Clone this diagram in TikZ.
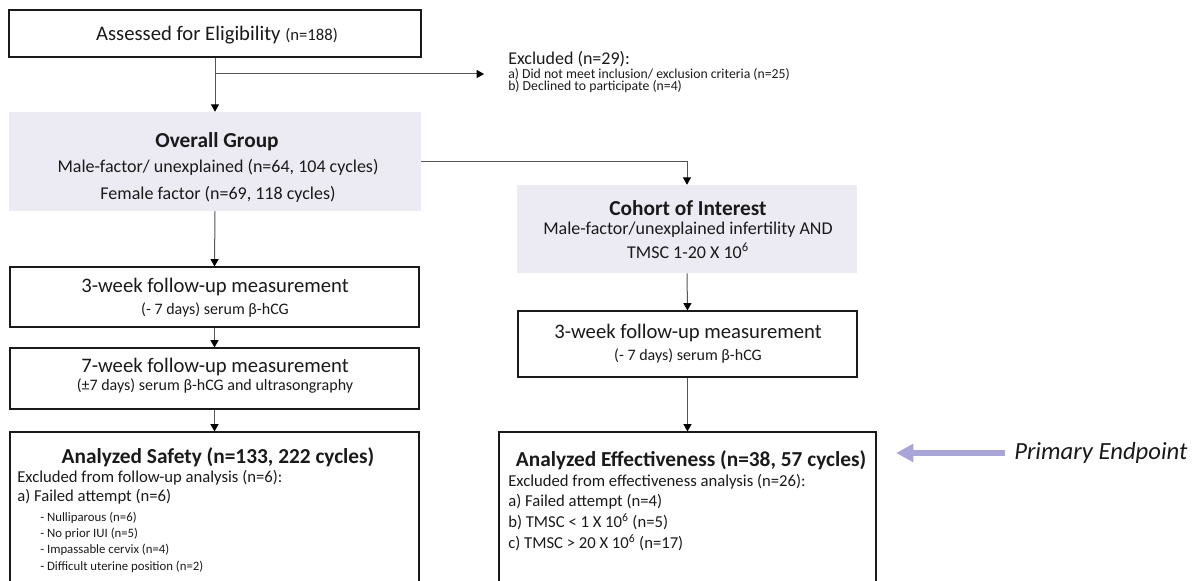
\documentclass[tikz,border=0pt]{standalone}
\usepackage{fontspec}
\setmainfont{Carlito}
\usetikzlibrary{positioning,fit,arrows.meta}
\definecolor{ink}  {HTML}{1A1A1A}
\definecolor{wire} {HTML}{555555}
\definecolor{haze} {HTML}{ECEBF4}
\definecolor{lilac}{HTML}{A9A5D6}
\tikzset{
  % --- boxes
  box/.style   = {draw=ink, line width=0.8pt, inner sep=0pt},
  grp/.style   = {fill=haze, inner sep=0pt},
  % --- text
  big/.style   = {inner sep=0pt, text=ink, font=\fontsize{15.5}{18}\selectfont},
  head/.style  = {inner sep=0pt, text=ink, font=\fontsize{16}{19}\selectfont\bfseries},
  sub/.style   = {inner sep=0pt, text=ink, font=\fontsize{13.5}{16}\selectfont},
  mid/.style   = {inner sep=0pt, text=ink, font=\fontsize{12.5}{15}\selectfont},
  small/.style = {inner sep=0pt, text=ink, font=\fontsize{12}{14}\selectfont},
  note/.style  = {inner sep=0pt, text=ink, font=\fontsize{10.3}{12}\selectfont},
  tiny/.style  = {inner sep=0pt, text=ink, font=\fontsize{9.6}{11}\selectfont},
  % --- edges
  arr/.style   = {-{Triangle[width=6pt,length=5.5pt,color=black]}, draw=wire, line width=0.75pt},
  fat/.style   = {-{Triangle[width=13pt,length=13pt]}, draw=lilac, line width=3.8pt},
}

\begin{document}
\begin{tikzpicture}[x=0.75pt,y=-0.75pt]
  \useasboundingbox (0,0) rectangle (1193,581);

  % left column
  \node[box, fit={(9,10) (421,57)}] (assess) {};
  \node[big] at (217,35) {Assessed for Eligibility {\fontsize{12.5}{14}\selectfont(n=188)}};

  \node[grp, fit={(9,112) (421,211)}] (overall) {};
  \node[head] at (217,142) {Overall Group};
  \node[sub]  at (218,167) {Male-factor/ unexplained (n=64, 104 cycles)};
  \node[sub]  at (218,194) {Female factor (n=69, 118 cycles)};

  \node[box, fit={(10,267) (419,327)}] (fuleft) {};
  \node[big]   at (215,287) {3-week follow-up measurement};
  \node[small] at (215,310) {(- 7 days) serum β-hCG};

  \node[box, fit={(10,348) (419,409)}] (fuseven) {};
  \node[big]   at (215,367) {7-week follow-up measurement};
  \node[small] at (215,386) {(±7 days) serum β-hCG and ultrasongraphy};

  \node[box, fit={(10,432) (419,595)}] (safety) {};
  \node[head] at (218,457) {Analyzed Safety (n=133, 222 cycles)};
  \node[mid, anchor=west] at (17,478) {Excluded from follow-up analysis (n=6):};
  \node[mid, anchor=west] at (17,497) {a) Failed attempt (n=6)};
  \node[tiny, anchor=west] at (40,518) {- Nulliparous (n=6)};
  \node[tiny, anchor=west] at (40,534) {- No prior IUI (n=5)};
  \node[tiny, anchor=west] at (40,550) {- Impassable cervix (n=4)};
  \node[tiny, anchor=west] at (40,567) {- Difficult uterine position (n=2)};

  % excluded branch
  \coordinate (split) at (215,74);
  \coordinate (exclin) at (484,74);
  \node[sub, anchor=west]  (excl) at (508,59) {Excluded (n=29):};
  \node[note, anchor=west] at (508,74) {a) Did not meet inclusion/ exclusion criteria (n=25)};
  \node[note, anchor=west] at (508,87) {b) Declined to participate (n=4)};

  % right column
  \node[grp, fit={(517,185) (857,273)}] (cohort) {};
  \node[head] at (688,208) {Cohort of Interest};
  \node[sub]  at (688,230) {Male-factor/unexplained infertility AND};
  \node[sub]  at (688,251) {TMSC 1-20 X 10\textsuperscript{6}};

  \node[box, fit={(518,311) (857,377)}] (furight) {};
  \node[big]   at (688,333) {3-week follow-up measurement};
  \node[small] at (688,356) {(- 7 days) serum β-hCG};

  \node[box, fit={(499,432) (876,595)}] (effect) {};
  \node[head] at (691,460) {Analyzed Effectiveness (n=38, 57 cycles)};
  \node[mid, anchor=west] at (508,482) {Excluded from effectiveness analysis (n=26):};
  \node[mid, anchor=west] at (508,502) {a) Failed attempt (n=4)};
  \node[mid, anchor=west] at (508,522) {b) TMSC < 1 X 10\textsuperscript{6} (n=5)};
  \node[mid, anchor=west] at (508,543) {c) TMSC > 20 X 10\textsuperscript{6} (n=17)};

  % primary endpoint
  \node[inner sep=0pt, anchor=west, font=\fontsize{18.5}{21}\selectfont\itshape, text=ink]
    (primary) at (1014,453) {Primary Endpoint};
  \coordinate (ptip) at (896,453);

  % connectors
  \draw[arr] (assess.south) -- (overall.north);
  \draw[arr] (split) -- (exclin);
  \draw[arr] (overall.east) -| (cohort.north);
  \draw[arr] (overall.south) -- (fuleft.north);
  \draw[arr] (fuleft.south) -- (fuseven.north);
  \draw[arr] (fuseven.south) -- (safety.north);
  \draw[arr] (cohort.south) -- (furight.north);
  \draw[arr] (furight.south) -- (effect.north -| furight.south);
  \draw[fat] ([xshift=-7pt]primary.west) -- (ptip);
\end{tikzpicture}
\end{document}
